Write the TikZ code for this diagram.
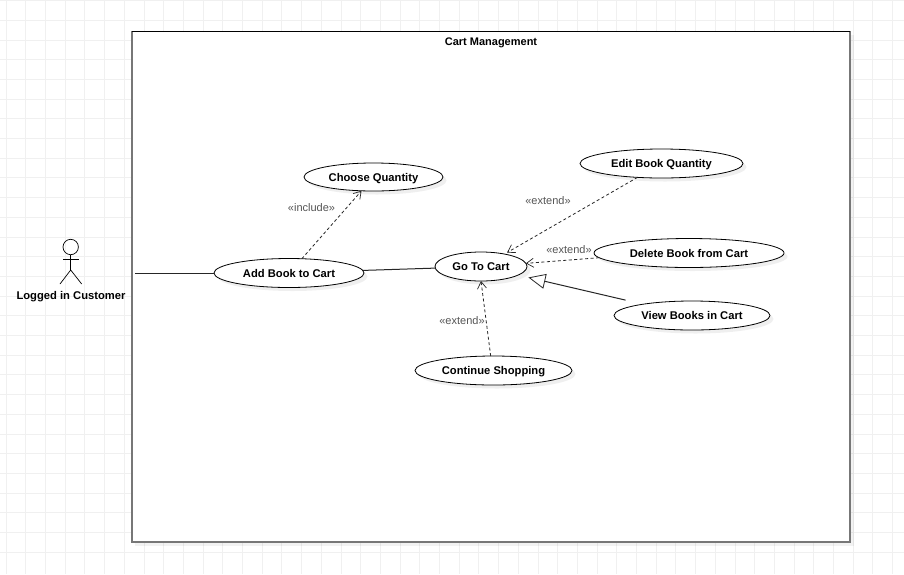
\documentclass[tikz,border=0pt]{standalone}
\usepackage{fontspec}
\setmainfont{Liberation Sans}
\usetikzlibrary{arrows.meta,shapes.geometric,shadows}
\definecolor{gridc}{HTML}{F0F0F0}
\definecolor{lab}{HTML}{555555}
\definecolor{edgegray}{HTML}{777777}
\tikzset{
  usecase/.style={ellipse,draw=black,line width=0.8pt,fill=white,inner sep=0pt,outer sep=0pt,
    minimum width=#1,text depth=0pt,font=\fontsize{11.2}{13}\selectfont\bfseries,
    drop shadow={opacity=0.12,shadow xshift=3.5pt,shadow yshift=-3.5pt}},
  assoc/.style={draw=black!85,line width=1pt},
  dep/.style={draw=black!85,line width=0.8pt,dash pattern=on 3pt off 2.5pt,-{Straight Barb[length=7pt,width=9pt,line width=0.7pt]}},
  gen/.style={draw=black!85,line width=1pt,-{Triangle[open,length=17pt,width=15pt,fill=white,line width=0.8pt]}},
  stereo/.style={text=lab,font=\fontsize{11}{12}\selectfont,inner sep=0pt},
  title/.style={font=\fontsize{11}{12}\selectfont\bfseries,inner sep=0pt},
  limb/.style={draw=black,line width=0.7pt},
}
\begin{document}
\begin{tikzpicture}[x=1pt,y=-1pt]
\useasboundingbox (0,0) rectangle (904,574);
\fill[white] (0,0) rectangle (904,574);
\foreach \i in {0,...,45} {\draw[gridc,line width=0.8pt] ({6+19.7*\i},0) -- ({6+19.7*\i},574);}
\foreach \i in {0,...,28} {\draw[gridc,line width=0.8pt] (0,{0.5+19.7*\i}) -- (904,{0.5+19.7*\i});}
% system frame
\fill[black,opacity=0.05] (135,35) rectangle (854,546);
\node[draw=none,fill=white,minimum width=718pt,minimum height=510.5pt,inner sep=0pt,outer sep=0pt] (frame) at (491,286.75) {};
\draw[edgegray,line width=1.5pt,line cap=rect] (frame.north west) -- (frame.south west) -- (frame.south east) -- (frame.north east);
\draw[black,line width=1pt] (frame.north west) -- (frame.north east);
\node[title] (frametitle) at (491,43) {Cart Management};
% actor
\node[circle,draw=black,line width=0.7pt,minimum size=15.4pt,inner sep=0pt,outer sep=0pt] (head) at (70.7,247) {};
\coordinate (hip) at (70.7,270);
\coordinate (armL) at (63,259.3);
\coordinate (armR) at (79,259.3);
\coordinate (footL) at (60,284);
\coordinate (footR) at (81.7,284);
\draw[limb] (head.south) -- (hip);
\draw[limb] (armL) -- (armR);
\draw[limb] (footL) -- (hip) -- (footR);
\node[font=\fontsize{11.2}{13}\selectfont\bfseries,inner sep=0pt] (actor) at (71,297) {Logged in Customer};
\coordinate (actorend) at (135,273);
% use cases
\node[usecase=139pt,minimum height=28pt] (choose) at (373.5,177) {Choose Quantity};
\node[usecase=150pt,minimum height=29pt] (add) at (289,273) {Add Book to Cart};
\node[usecase=92pt,minimum height=29pt] (go) at (481,266.5) {Go To Cart};
\node[usecase=163pt,minimum height=29pt] (edit) at (661.5,163.5) {Edit Book Quantity};
\node[usecase=190pt,minimum height=29pt] (del) at (689,253) {Delete Book from Cart};
\node[usecase=156pt,minimum height=29pt] (view) at (692,315.5) {View Books in Cart};
\node[usecase=157pt,minimum height=29pt] (cont) at (493.5,370.5) {Continue Shopping};
% connectors
\draw[assoc] (actorend) -- (add.west);
\draw[assoc] (add.2) -- (go.182.5);
\draw[dep] (add.48) -- (choose.229);
\draw[dep,shorten >=3pt] (edit.210) -- (go.28);
\draw[dep] (del.183.6) -- (go.4);
\draw[dep] (cont.101) -- (go.270);
\draw[gen,shorten <=18pt,shorten >=10.6pt] (view.167.6) -- (go.347.4);
% labels
\node[stereo] (l1) at (311.5,207.5) {«include»};
\node[stereo] (l2) at (548,201) {«extend»};
\node[stereo] (l3) at (569,250) {«extend»};
\node[stereo] (l4) at (462,321) {«extend»};
\end{tikzpicture}
\end{document}
